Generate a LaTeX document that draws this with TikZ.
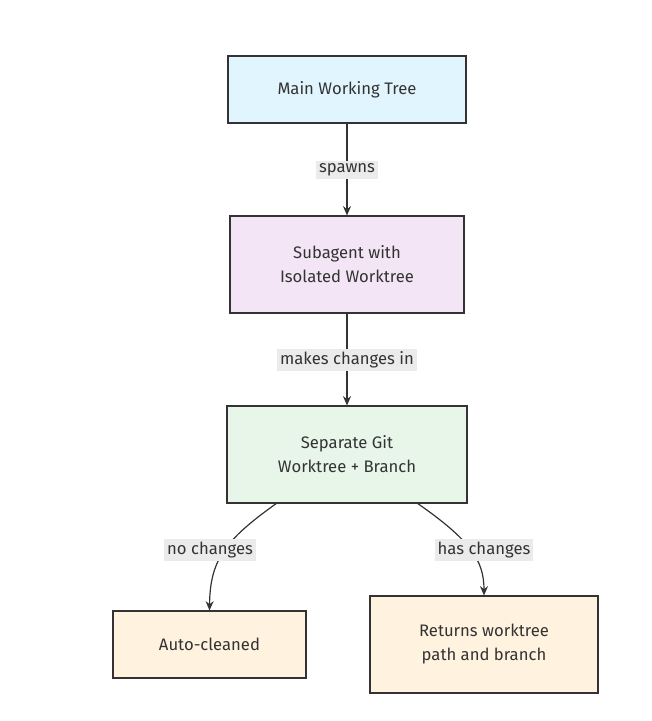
\documentclass[tikz,border=0pt]{standalone}
\usepackage{fontspec}
\setmainfont{Fira Sans}
\usetikzlibrary{arrows.meta}
\definecolor{txt}{HTML}{333333}
\begin{document}
\begin{tikzpicture}[x=0.75pt,y=-0.75pt,
  box/.style={draw=txt,line width=0.8pt,text=txt,font=\fontsize{12.5}{18}\selectfont,align=center,inner sep=0pt},
  lbl/.style={fill=black!8,text=txt,font=\fontsize{12.5}{15}\selectfont,inner sep=2pt},
  arr/.style={draw=txt,line width=0.9pt,-{Stealth[length=7pt,width=6pt]}}]
\useasboundingbox (0,0) rectangle (652,721);
\node[box,fill={rgb,255:red,225;green,245;blue,254},minimum width=238*0.75pt,minimum height=67*0.75pt] (a) at (347,89.5) {Main Working Tree};
\node[box,fill={rgb,255:red,243;green,229;blue,245},minimum width=234*0.75pt,minimum height=97*0.75pt] (b) at (347,264.5) {Subagent with\\Isolated Worktree};
\node[box,fill={rgb,255:red,232;green,245;blue,233},minimum width=240*0.75pt,minimum height=97*0.75pt] (c) at (347,454.5) {Separate Git\\Worktree + Branch};
\node[box,fill={rgb,255:red,255;green,243;blue,224},minimum width=193*0.75pt,minimum height=67*0.75pt] (d) at (209.5,644.5) {Auto-cleaned};
\node[box,fill={rgb,255:red,255;green,243;blue,224},minimum width=228*0.75pt,minimum height=97*0.75pt] (e) at (484,644.5) {Returns worktree\\path and branch};
\coordinate (c1) at (277,503);
\coordinate (c2) at (417,503);
\draw[arr] (a) -- (b);
\draw[arr] (b) -- (c);
\draw[arr] (c1) .. controls (225,540) and (210,560) .. (d.north);
\draw[arr] (c2) .. controls (470,540) and (484,560) .. (e.north);
\node[lbl] (l1) at (347,170) {spawns};
\node[lbl] (l2) at (347,360) {makes changes in};
\node[lbl] (l3) at (210,550) {no changes};
\node[lbl] (l4) at (484,550) {has changes};
\end{tikzpicture}
\end{document}
